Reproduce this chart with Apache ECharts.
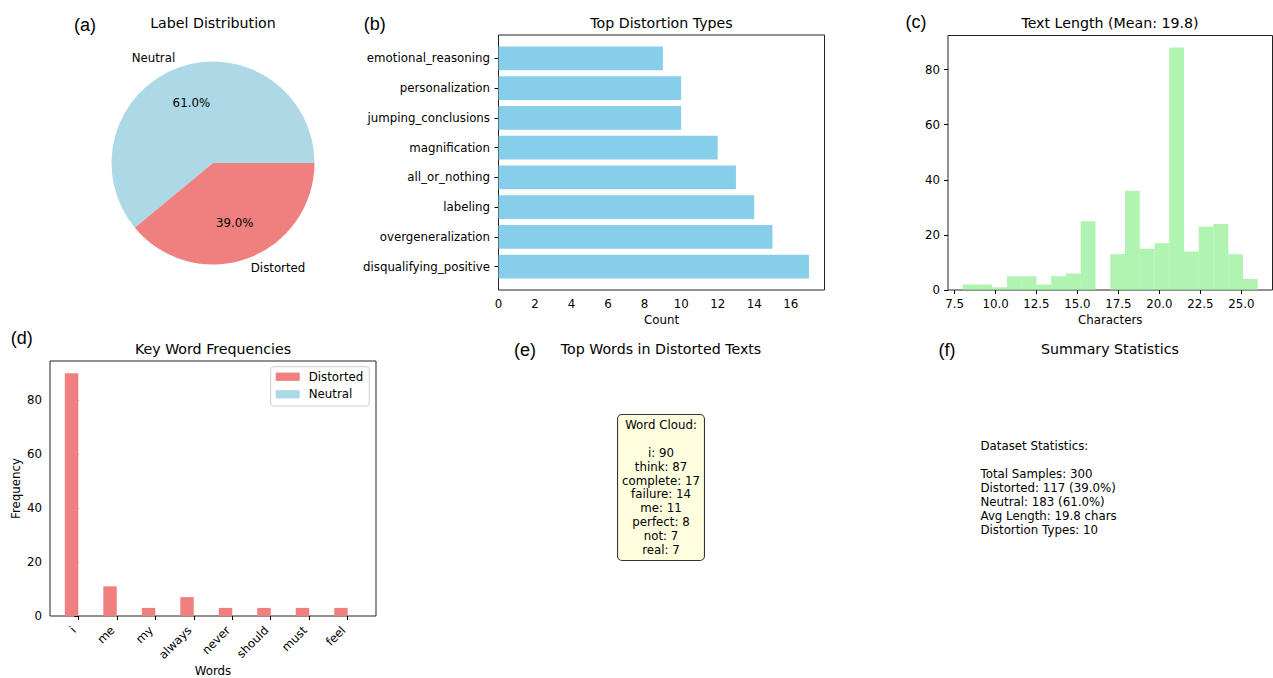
<!DOCTYPE html>
<html>
<head>
<meta charset="utf-8">
<script src="https://cdn.jsdelivr.net/npm/echarts@6/dist/echarts.min.js"></script>
<style>
  html, body { margin: 0; padding: 0; background: #fff; }
  #chart { width: 1273px; height: 678px; }
</style>
</head>
<body>
<div id="chart"></div>
<script>
// ---- data ----
const labelNames = ['Neutral', 'Distorted'];
const labelCounts = [183, 117];

const distortionTypes = ['disqualifying_positive', 'overgeneralization', 'labeling', 'all_or_nothing',
  'magnification', 'jumping_conclusions', 'personalization', 'emotional_reasoning'];
const distortionCounts = [17, 15, 14, 13, 12, 10, 10, 9];

const lengthBinEdges = [8, 8.9, 9.8, 10.7, 11.6, 12.5, 13.4, 14.3, 15.2, 16.1, 17,
  17.9, 18.8, 19.7, 20.6, 21.5, 22.4, 23.3, 24.2, 25.1, 26];
const lengthCounts = [2, 2, 1, 5, 5, 2, 5, 6, 25, 0, 13, 36, 15, 17, 88, 14, 23, 24, 13, 4];
const meanLength = 19.8;
const lengthTicks = [7.5, 10, 12.5, 15, 17.5, 20, 22.5, 25];

const keyWords = ['i', 'me', 'my', 'always', 'never', 'should', 'must', 'feel'];
const keyWordDistorted = [90, 11, 3, 7, 3, 3, 3, 3];
const keyWordNeutral = [0, 0, 0, 0, 0, 0, 0, 0];

const cloudWords = ['i', 'think', 'complete', 'failure', 'me', 'perfect', 'not', 'real'];
const cloudCounts = [90, 87, 17, 14, 11, 8, 7, 7];

const distortionTypeTotal = 10;

// ---- styling helpers ----
const FONT = 'DejaVu Sans';
const TICK_FS = 11.8;
const TITLE_FS = 14.2;
const C_NEUTRAL = '#ADD8E6';
const C_DISTORTED = '#F08080';
const C_SKY = '#87CEEB';
const C_GREEN = 'rgba(144,238,144,0.7)';

const total = labelCounts.reduce((a, b) => a + b, 0);
const pct = v => (v / total * 100).toFixed(1) + '%';

function baseAxis(extra) {
  return Object.assign({
    type: 'value',
    splitLine: { show: false },
    axisLine: { show: false },
    axisTick: { show: true, length: 4, lineStyle: { color: '#000', width: 1 } },
    axisLabel: { color: '#000', fontFamily: FONT, fontSize: TICK_FS, margin: 8 },
    nameTextStyle: { color: '#000', fontFamily: FONT, fontSize: TICK_FS },
    nameLocation: 'middle'
  }, extra);
}

function range(a, b, step) { const r = []; for (let v = a; v <= b + 1e-9; v += step) r.push(v); return r; }

const gridStyle = { show: true, borderColor: '#222', borderWidth: 1, backgroundColor: 'transparent' };

// rectangle renderer shared by the bar panels: value layout [x0, x1, y0, y1]
function rectItem(color) {
  return function (params, api) {
    const p0 = api.coord([api.value(0), api.value(3)]);
    const p1 = api.coord([api.value(1), api.value(2)]);
    const w = p1[0] - p0[0], h = p1[1] - p0[1];
    if (Math.abs(w) < 0.01 || Math.abs(h) < 0.01) return null;
    return { type: 'rect', shape: { x: p0[0], y: p0[1], width: w, height: h }, style: { fill: color } };
  };
}

const barHalf = 0.4;
const distortionData = distortionCounts.map((v, i) => [0, v, i - barHalf, i + barHalf]);
const histData = lengthCounts.map((c, i) => [lengthBinEdges[i], lengthBinEdges[i + 1], 0, c]);
const kwWidth = 0.35;
const kwDistData = keyWordDistorted.map((v, i) => [i - kwWidth, i, 0, v]);
const kwNeutData = keyWordNeutral.map((v, i) => [i, i + kwWidth, 0, v]);

const histMin = lengthBinEdges[0], histMax = lengthBinEdges[lengthBinEdges.length - 1];
const histPad = (histMax - histMin) * 0.05;

const textStyleBase = { fontFamily: FONT, fill: '#000' };
function label(text, x, y, size, family, align) {
  return { type: 'text', x: x, y: y, silent: true,
    style: { text: text, fontSize: size, fontFamily: family || FONT, fill: '#000',
      align: align || 'center', verticalAlign: 'middle' } };
}

const cloudLines = ['Word Cloud:', ''].concat(cloudWords.map((w, i) => w + ': ' + cloudCounts[i]));
const statLines = [
  'Dataset Statistics:', '',
  'Total Samples: ' + total,
  'Distorted: ' + labelCounts[1] + ' (' + pct(labelCounts[1]) + ')',
  'Neutral: ' + labelCounts[0] + ' (' + pct(labelCounts[0]) + ')',
  'Avg Length: ' + meanLength.toFixed(1) + ' chars',
  'Distortion Types: ' + distortionTypeTotal
];

const option = {
  animation: false,
  backgroundColor: '#fff',
  textStyle: { fontFamily: FONT },
  grid: [
    Object.assign({ left: 498.5, top: 35, width: 326, height: 255 }, gridStyle),
    Object.assign({ left: 948, top: 35.5, width: 324.5, height: 254.5 }, gridStyle),
    Object.assign({ left: 50, top: 361, width: 326, height: 255 }, gridStyle)
  ],
  xAxis: [
    baseAxis({ gridIndex: 0, min: 0, max: Math.max(...distortionCounts) * 1.05,
      name: 'Count', nameGap: 24,
      axisTick: { show: true, length: 4, customValues: range(0, 16, 2), lineStyle: { color: '#000' } },
      axisLabel: { color: '#000', fontFamily: FONT, fontSize: TICK_FS, margin: 8, customValues: range(0, 16, 2) } }),
    baseAxis({ gridIndex: 1, min: histMin - histPad, max: histMax + histPad,
      name: 'Characters', nameGap: 24,
      axisTick: { show: true, length: 4, customValues: lengthTicks, lineStyle: { color: '#000' } },
      axisLabel: { color: '#000', fontFamily: FONT, fontSize: TICK_FS, margin: 8, customValues: lengthTicks,
        formatter: v => Number(v).toFixed(1) } }),
    baseAxis({ gridIndex: 2, min: -kwWidth - 7.7 * 0.05, max: keyWords.length - 1 + kwWidth + 7.7 * 0.05,
      name: 'Words', nameGap: 49,
      axisTick: { show: true, length: 4, customValues: range(0, keyWords.length - 1, 1), lineStyle: { color: '#000' } },
      axisLabel: { color: '#000', fontFamily: FONT, fontSize: TICK_FS, margin: 8, rotate: 45,
        padding: [0, 6, 0, 0],
        customValues: range(0, keyWords.length - 1, 1), formatter: v => keyWords[Math.round(v)] } })
  ],
  yAxis: [
    baseAxis({ gridIndex: 0, min: -barHalf - 0.39, max: distortionTypes.length - 1 + barHalf + 0.39,
      axisTick: { show: true, length: 4, customValues: range(0, distortionTypes.length - 1, 1), lineStyle: { color: '#000' } },
      axisLabel: { color: '#000', fontFamily: FONT, fontSize: TICK_FS, margin: 8.5,
        customValues: range(0, distortionTypes.length - 1, 1), formatter: v => distortionTypes[Math.round(v)] } }),
    baseAxis({ gridIndex: 1, min: 0, max: Math.max(...lengthCounts) * 1.05,
      axisTick: { show: true, length: 4, customValues: range(0, 80, 20), lineStyle: { color: '#000' } },
      axisLabel: { color: '#000', fontFamily: FONT, fontSize: TICK_FS, margin: 8, customValues: range(0, 80, 20) } }),
    baseAxis({ gridIndex: 2, min: 0, max: Math.max(...keyWordDistorted) * 1.05,
      name: 'Frequency', nameGap: 28,
      axisTick: { show: true, length: 4, customValues: range(0, 80, 20), lineStyle: { color: '#000' } },
      axisLabel: { color: '#000', fontFamily: FONT, fontSize: TICK_FS, margin: 8, customValues: range(0, 80, 20) } })
  ],
  legend: {
    left: 270.7, top: 366.7, orient: 'vertical',
    icon: 'rect', itemWidth: 24, itemHeight: 8.3, itemGap: 3.6,
    padding: [3, 6, 4.7, 5],
    borderColor: '#cccccc', borderWidth: 1, borderRadius: 3,
    backgroundColor: 'rgba(255,255,255,0.8)',
    selectedMode: false,
    textStyle: { color: '#000', fontFamily: FONT, fontSize: TICK_FS, lineHeight: 14, padding: [0, 0, 0, 4] },
    data: [
      { name: 'Distorted', itemStyle: { color: C_DISTORTED } },
      { name: 'Neutral', itemStyle: { color: C_NEUTRAL } }
    ]
  },
  series: [
    {
      type: 'pie', name: 'labels', center: [213, 163], radius: 101.5,
      startAngle: 0, clockwise: false, avoidLabelOverlap: false, silent: true,
      itemStyle: { borderWidth: 0 },
      label: { position: 'outside', color: '#000', fontFamily: FONT, fontSize: TICK_FS,
        distanceToLabelLine: 0, formatter: '{b}' },
      labelLine: { show: false, length: 10, length2: 0 },
      data: labelNames.map((n, i) => ({ name: n, value: labelCounts[i],
        itemStyle: { color: i === 0 ? C_NEUTRAL : C_DISTORTED } }))
    },
    {
      type: 'pie', name: 'labelPct', center: [213, 163], radius: [0, 101.5 * 1.2],
      startAngle: 0, clockwise: false, avoidLabelOverlap: false, silent: true,
      itemStyle: { color: 'rgba(0,0,0,0)', borderWidth: 0 },
      label: { position: 'inside', color: '#000', fontFamily: FONT, fontSize: TICK_FS,
        formatter: p => pct(p.value) },
      labelLine: { show: false },
      data: labelNames.map((n, i) => ({ name: n + ' ', value: labelCounts[i] }))
    },
    {
      type: 'custom', name: 'Distortion types', xAxisIndex: 0, yAxisIndex: 0, silent: true,
      renderItem: rectItem(C_SKY), encode: { x: [0, 1], y: [2, 3] }, data: distortionData
    },
    {
      type: 'custom', name: 'Text length', xAxisIndex: 1, yAxisIndex: 1, silent: true,
      renderItem: rectItem(C_GREEN), encode: { x: [0, 1], y: [2, 3] }, data: histData
    },
    {
      type: 'custom', name: 'Distorted', xAxisIndex: 2, yAxisIndex: 2, silent: true,
      itemStyle: { color: C_DISTORTED },
      renderItem: rectItem(C_DISTORTED), encode: { x: [0, 1], y: [2, 3] }, data: kwDistData
    },
    {
      type: 'custom', name: 'Neutral', xAxisIndex: 2, yAxisIndex: 2, silent: true,
      itemStyle: { color: C_NEUTRAL },
      renderItem: rectItem(C_NEUTRAL), encode: { x: [0, 1], y: [2, 3] }, data: kwNeutData
    }
  ],
  graphic: [
    // panel titles
    label('Label Distribution', 213, 23, TITLE_FS),
    label('Top Distortion Types', 661.5, 23, TITLE_FS),
    label('Text Length (Mean: ' + meanLength.toFixed(1) + ')', 1110, 23, TITLE_FS),
    label('Key Word Frequencies', 213, 349, TITLE_FS),
    label('Top Words in Distorted Texts', 661, 349, TITLE_FS),
    label('Summary Statistics', 1110, 349, TITLE_FS),
    // panel letters
    label('(a)', 85, 25, 18, 'Liberation Sans'),
    label('(b)', 374.7, 24, 18, 'Liberation Sans'),
    label('(c)', 916, 22, 18, 'Liberation Sans'),
    label('(d)', 21.7, 338, 18, 'Liberation Sans'),
    label('(e)', 525, 350, 18, 'Liberation Sans'),
    label('(f)', 947, 350, 18, 'Liberation Sans'),
    // word cloud box
    {
      type: 'text', x: 661, y: 487.5, silent: true,
      style: {
        text: cloudLines.join('\n'), fontSize: TICK_FS, fontFamily: FONT, fill: '#000',
        align: 'center', verticalAlign: 'middle', lineHeight: 13.9,
        backgroundColor: '#FFFFE0', borderColor: '#333', borderWidth: 1.1, borderRadius: 4,
        padding: [3, 4]
      }
    },
    // summary statistics block
    {
      type: 'text', x: 980.5, y: 438.7, silent: true,
      style: {
        text: statLines.join('\n'), fontSize: TICK_FS, fontFamily: FONT, fill: '#000',
        align: 'left', verticalAlign: 'top', lineHeight: 14
      }
    }
  ]
};

const chart = echarts.init(document.getElementById('chart'), null, { renderer: 'svg', width: 1273, height: 678 });
chart.setOption(option);
</script>
</body>
</html>
